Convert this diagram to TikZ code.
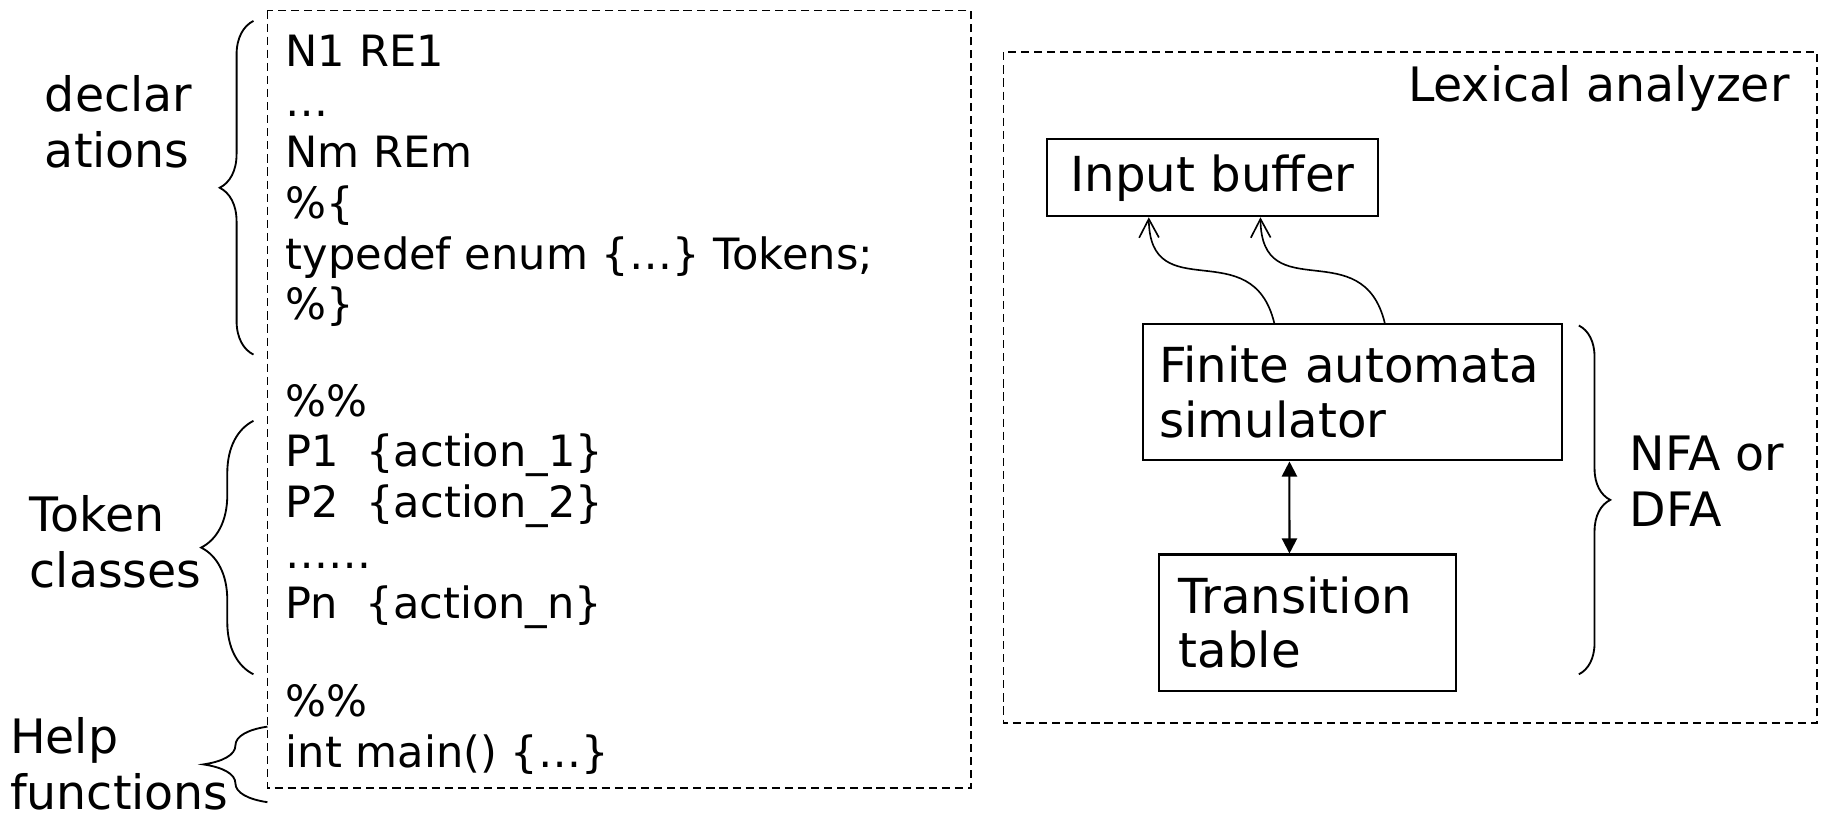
\documentclass[tikz,border=0pt]{standalone}
\usepackage{fontspec}
\setmainfont{DejaVu Sans}
\usetikzlibrary{arrows.meta,decorations.pathreplacing}

\begin{document}
\begin{tikzpicture}[
		x=0.01cm, y=-0.01cm,
		code/.style={anchor=base west, inner sep=0pt, font=\fontsize{10.55}{12.4}\selectfont},
		lbl/.style={anchor=west, align=left, inner sep=0pt, font=\fontsize{11.6}{13.7}\selectfont},
		blk/.style={draw, line width=0.5pt, inner ysep=0pt, font=\fontsize{11.8}{13.4}\selectfont},
		frame/.style={draw, dash pattern=on 2pt off 1.2pt, line width=0.4pt},
		brc/.style={decorate, decoration={brace, amplitude=#1}, line width=0.45pt},
		>={Straight Barb[length=1.6mm,width=1.7mm]}]
	\useasboundingbox (0,0) rectangle (1568,701);
	%% define frames
	\draw[frame] (230,9) rectangle (835,678);
	\draw[frame] (863,45) rectangle (1563,622);
	%% lex specification
	\node (l1) at (245,57) [code] {N1 RE1};
	\node (l2) at (245,100.6) [code] {…};
	\node (l3) at (245,144.2) [code] {Nm REm};
	\node (l4) at (245,187.8) [code] {\%\{};
	\node (l5) at (245,231.4) [code] {typedef enum \{…\} Tokens;};
	\node (l6) at (245,275) [code] {\%\}};
	\node (l7) at (245,358) [code] {\%\%};
	\node (l8) at (245,401.6) [code] {P1\ \ \{action\_1\}};
	\node (l9) at (245,445.2) [code] {P2\ \ \{action\_2\}};
	\node (l10) at (245,488.8) [code] {……};
	\node (l11) at (245,532.4) [code] {Pn\ \ \{action\_n\}};
	\node (l12) at (245,616) [code] {\%\%};
	\node (l13) at (245,660) [code] {int main() \{…\}};
	%% define braces
	\draw[brc=0.29cm] (218,305) -- (218,18);
	\draw[brc=0.45cm] (218,580) -- (218,362);
	\draw[brc=0.55cm] (230,690) -- (230,625);
	\draw[brc=0.27cm] (1358,280) -- (1358,580);
	\node (decl) at (38,105) [lbl] {declar\\ations};
	\node (tok) at (25,466) [lbl] {Token\\classes};
	\node (help) at (8,657) [lbl] {Help\\functions};
	\node (nfa) at (1401,414) [lbl] {NFA or\\DFA};
	%% lexical analyzer
	\node (lex) at (1540,87) [anchor=base east, inner sep=0pt, font=\fontsize{11.6}{13.4}\selectfont] {Lexical analyzer};
	\node (buf) at (1043,153) [blk, minimum width=2.84cm, minimum height=0.66cm] {Input buffer};
	\node (fas) at (1163,337.5) [blk, text width=3.32cm, inner xsep=0.14cm, minimum height=1.17cm, align=left] {Finite automata\\simulator};
	\node (tt) at (1124.5,535.5) [blk, text width=2.21cm, inner xsep=0.17cm, minimum height=1.17cm, align=left] {Transition\\table};
	%% define arrows
	\draw[->, line width=0.4pt] ([xshift=1.14cm]fas.north west) .. controls +(-19,-79) and +(1,79) .. ([xshift=0.88cm]buf.south west);
	\draw[->, line width=0.4pt] ([xshift=2.09cm]fas.north west) .. controls +(-19,-79) and +(1,79) .. ([xshift=1.84cm]buf.south west);
	\draw[{Triangle[length=1.3mm,width=1.3mm]}-{Triangle[length=1.3mm,width=1.3mm]}, line width=0.5pt] ([xshift=1.27cm]fas.south west) -- ([xshift=1.13cm]tt.north west);
\end{tikzpicture}
\end{document}
